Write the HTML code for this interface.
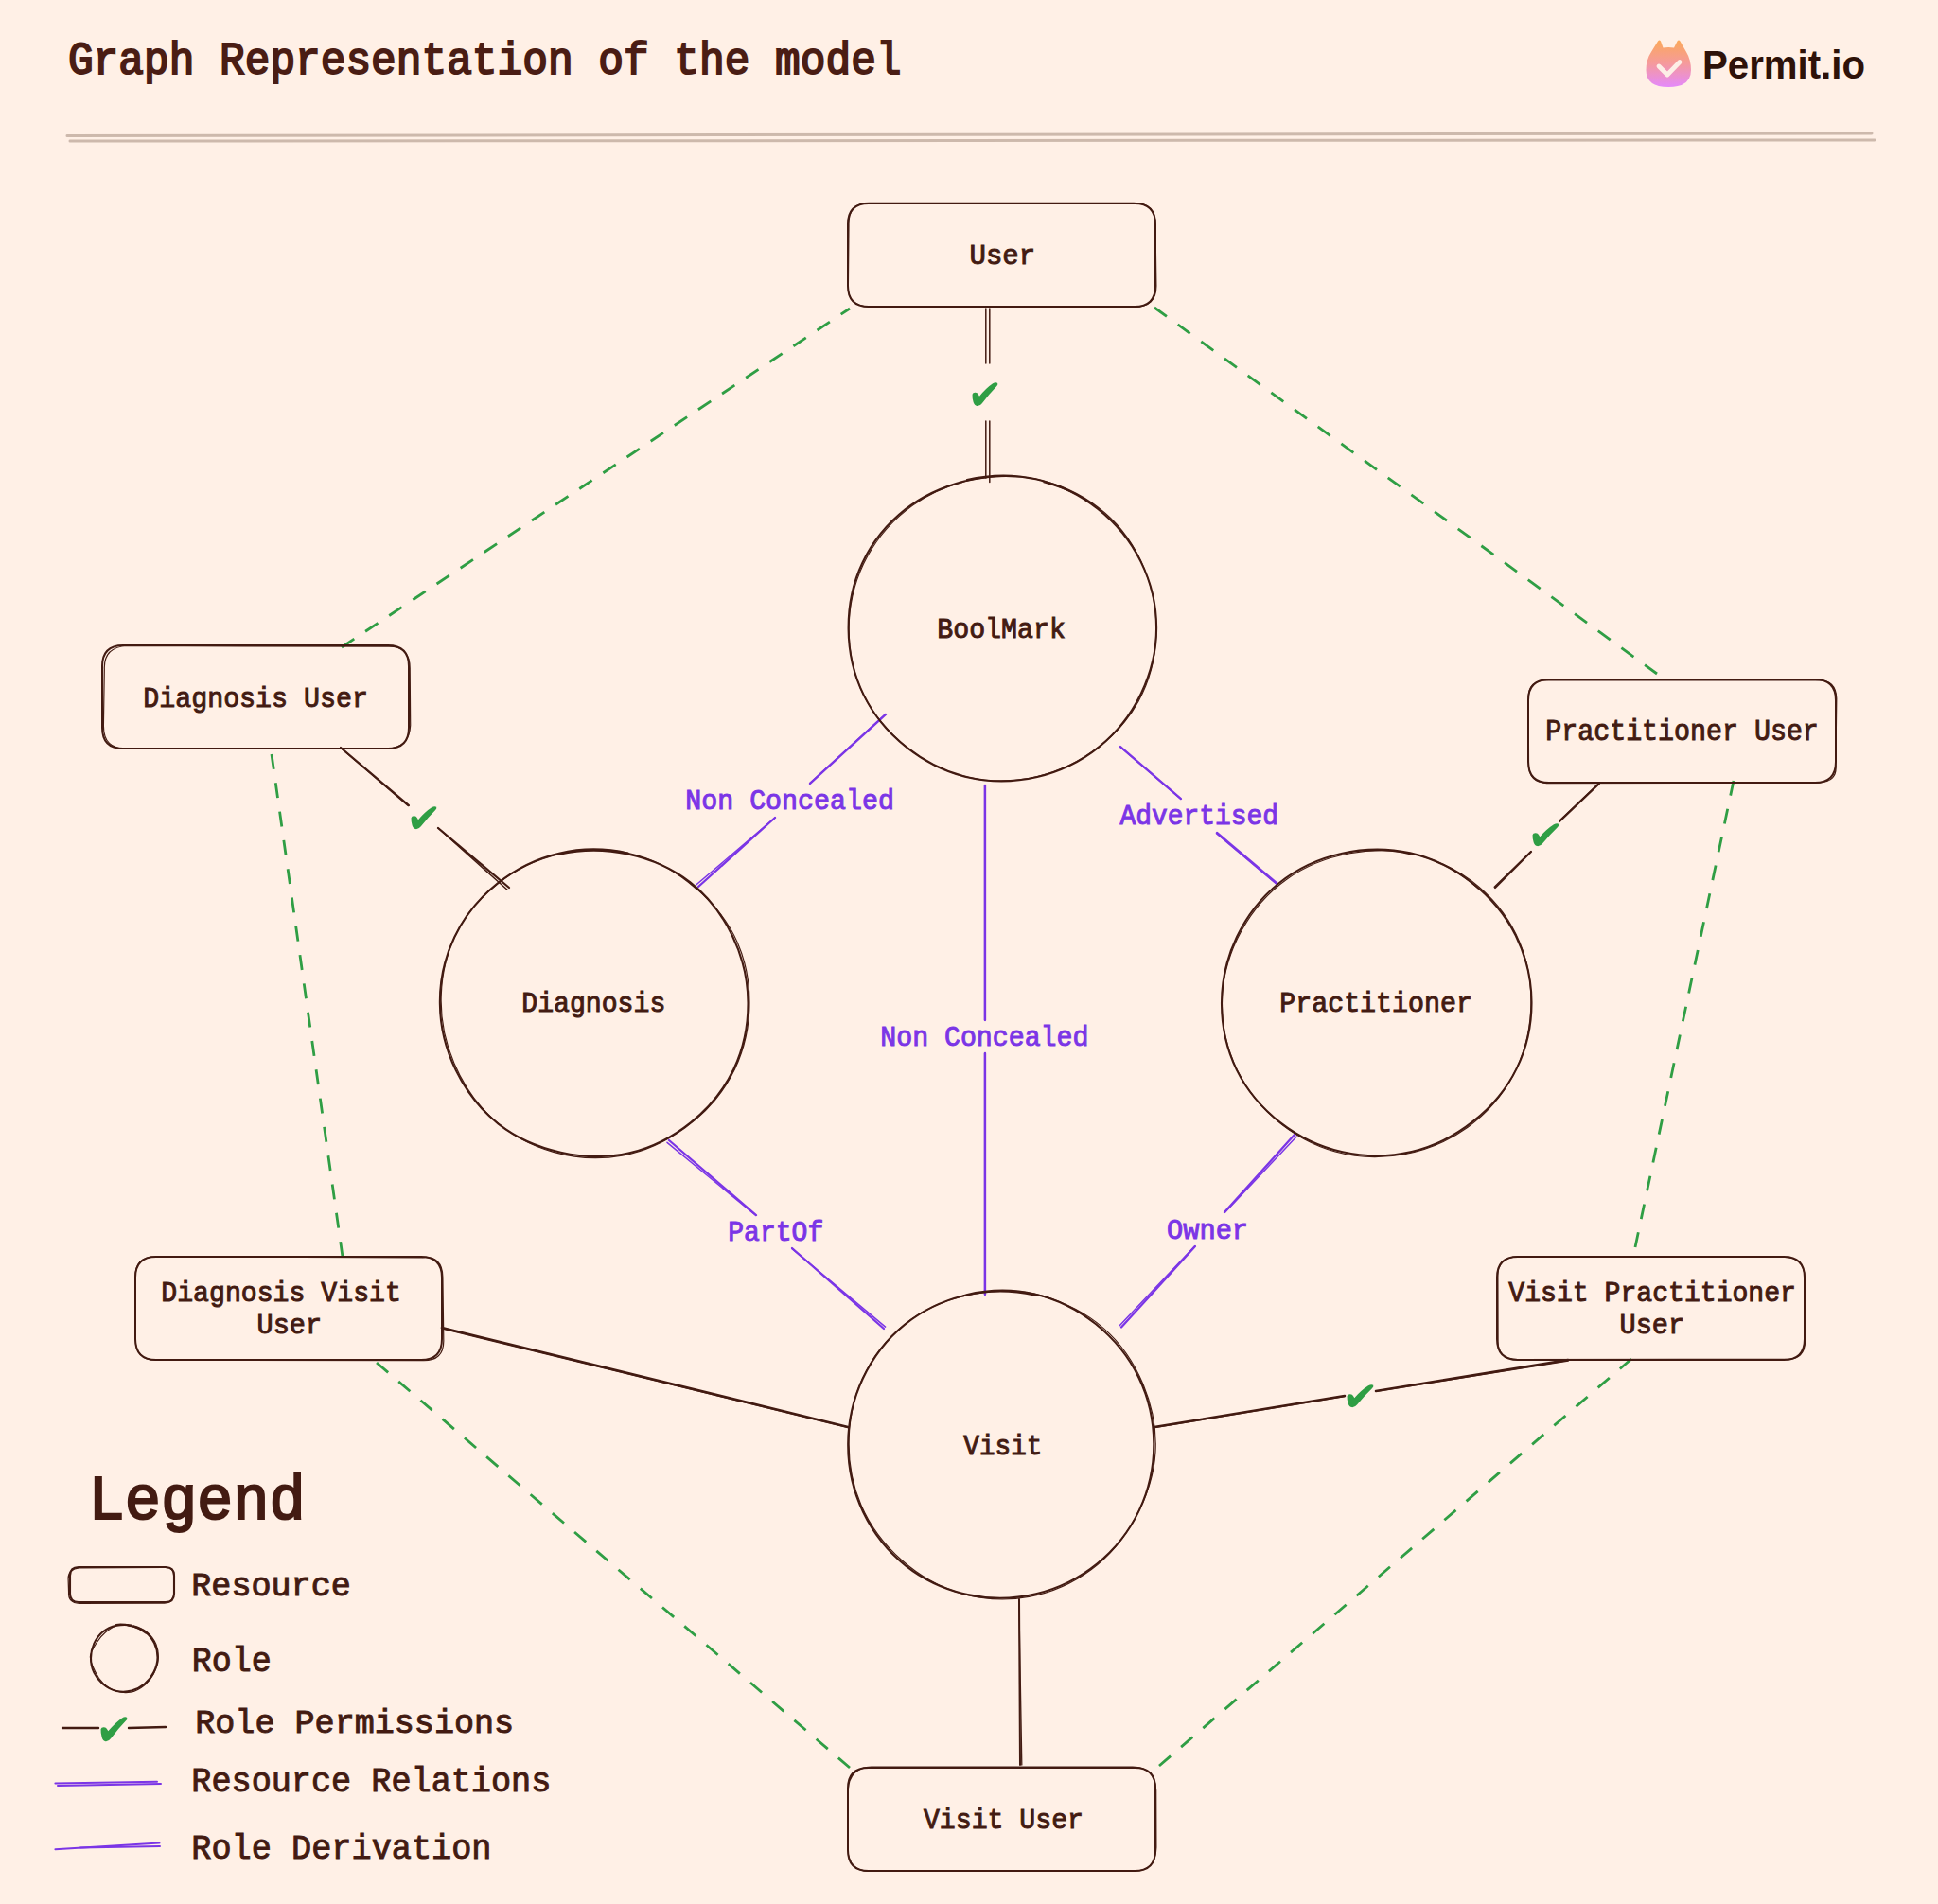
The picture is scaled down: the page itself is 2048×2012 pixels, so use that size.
<!DOCTYPE html><html><head><meta charset="utf-8"><style>html,body{margin:0;padding:0;background:#fff0e6;overflow:hidden} svg{display:block} .m{font-family:"Liberation Mono",monospace} .s{font-family:"Liberation Sans",sans-serif;font-weight:bold}</style></head><body>
<svg width="2048" height="2012" viewBox="0 0 2048 2012">
<rect width="2048" height="2012" fill="#fff0e6"/>
<g class="m">
<text transform="translate(71.90,78.25) scale(0.9365,1)" font-size="47.50" fill="#4a1d14" stroke="#4a1d14" stroke-width="2.0">Graph Representation of the model</text>
<line x1="71.0" y1="143.5" x2="1978.0" y2="141.0" stroke="#cdb9ac" stroke-width="3" stroke-linecap="round"/>
<line x1="74.0" y1="149.0" x2="1981.0" y2="148.0" stroke="#cdb9ac" stroke-width="3" stroke-linecap="round"/>
<line x1="361" y1="684" x2="898" y2="326" stroke="#2f9e44" stroke-width="2.8" stroke-dasharray="16 14.20"/>
<line x1="1220" y1="325" x2="1751" y2="712" stroke="#2f9e44" stroke-width="2.8" stroke-dasharray="16 14.53"/>
<line x1="287" y1="797" x2="362" y2="1328" stroke="#2f9e44" stroke-width="2.8" stroke-dasharray="16 14.60"/>
<line x1="1832" y1="825" x2="1728" y2="1318" stroke="#2f9e44" stroke-width="2.8" stroke-dasharray="16 14.49"/>
<line x1="398" y1="1440" x2="898" y2="1868" stroke="#2f9e44" stroke-width="2.8" stroke-dasharray="16 14.58"/>
<line x1="1724" y1="1436" x2="1225" y2="1866" stroke="#2f9e44" stroke-width="2.8" stroke-dasharray="16 14.61"/>
<line x1="1041.8" y1="326.0" x2="1041.8" y2="384.0" stroke="#431b12" stroke-width="1.5" stroke-linecap="round"/>
<line x1="1045.8" y1="326.0" x2="1045.8" y2="384.0" stroke="#431b12" stroke-width="1.5" stroke-linecap="round"/>
<path transform="translate(1027,404) scale(0.1080,0.1111)" fill="#2f9e44" d="M5,115 Q10,95 35,97 Q55,98 62,112 L74,133 Q140,55 205,12 Q235,-5 252,8 Q258,25 240,40 Q170,110 100,200 Q80,228 50,226 Q25,222 15,190 Q3,150 5,115 Z"/>
<line x1="1041.8" y1="445.0" x2="1041.8" y2="505.0" stroke="#431b12" stroke-width="1.5" stroke-linecap="round"/>
<line x1="1045.8" y1="445.0" x2="1045.8" y2="509.5" stroke="#431b12" stroke-width="1.5" stroke-linecap="round"/>
<line x1="360.0" y1="790.0" x2="432.0" y2="851.0" stroke="#431b12" stroke-width="2.2" stroke-linecap="round"/>
<line x1="359.8" y1="790.2" x2="431.5" y2="851.6" stroke="#431b12" stroke-width="1.4300000000000002" stroke-linecap="round"/>
<path transform="translate(434,852) scale(0.1080,0.1067)" fill="#2f9e44" d="M5,115 Q10,95 35,97 Q55,98 62,112 L74,133 Q140,55 205,12 Q235,-5 252,8 Q258,25 240,40 Q170,110 100,200 Q80,228 50,226 Q25,222 15,190 Q3,150 5,115 Z"/>
<line x1="463.0" y1="875.0" x2="538.0" y2="938.0" stroke="#431b12" stroke-width="2.2" stroke-linecap="round"/>
<line x1="463.0" y1="875.0" x2="536.1" y2="940.3" stroke="#431b12" stroke-width="1.4300000000000002" stroke-linecap="round"/>
<line x1="1690.0" y1="828.0" x2="1648.0" y2="868.0" stroke="#431b12" stroke-width="2.2" stroke-linecap="round"/>
<line x1="1689.7" y1="827.6" x2="1647.7" y2="867.6" stroke="#431b12" stroke-width="1.4300000000000002" stroke-linecap="round"/>
<path transform="translate(1619,870) scale(0.1120,0.1067)" fill="#2f9e44" d="M5,115 Q10,95 35,97 Q55,98 62,112 L74,133 Q140,55 205,12 Q235,-5 252,8 Q258,25 240,40 Q170,110 100,200 Q80,228 50,226 Q25,222 15,190 Q3,150 5,115 Z"/>
<line x1="1618.0" y1="900.0" x2="1580.0" y2="938.0" stroke="#431b12" stroke-width="2.2" stroke-linecap="round"/>
<line x1="1617.8" y1="899.8" x2="1579.2" y2="937.2" stroke="#431b12" stroke-width="1.4300000000000002" stroke-linecap="round"/>
<line x1="467.0" y1="1403.0" x2="896.0" y2="1508.0" stroke="#431b12" stroke-width="2.6" stroke-linecap="round"/>
<line x1="466.8" y1="1403.8" x2="895.9" y2="1508.3" stroke="#431b12" stroke-width="1.6900000000000002" stroke-linecap="round"/>
<line x1="1220.0" y1="1508.0" x2="1421.0" y2="1475.0" stroke="#431b12" stroke-width="2.5" stroke-linecap="round"/>
<line x1="1220.1" y1="1508.5" x2="1421.1" y2="1475.4" stroke="#431b12" stroke-width="1.625" stroke-linecap="round"/>
<path transform="translate(1423,1463) scale(0.1120,0.1067)" fill="#2f9e44" d="M5,115 Q10,95 35,97 Q55,98 62,112 L74,133 Q140,55 205,12 Q235,-5 252,8 Q258,25 240,40 Q170,110 100,200 Q80,228 50,226 Q25,222 15,190 Q3,150 5,115 Z"/>
<line x1="1454.0" y1="1470.0" x2="1657.0" y2="1437.0" stroke="#431b12" stroke-width="2.5" stroke-linecap="round"/>
<line x1="1454.0" y1="1470.3" x2="1657.2" y2="1438.0" stroke="#431b12" stroke-width="1.625" stroke-linecap="round"/>
<line x1="1077.0" y1="1690.0" x2="1078.0" y2="1865.0" stroke="#431b12" stroke-width="2.0" stroke-linecap="round"/>
<line x1="1076.8" y1="1690.0" x2="1079.8" y2="1865.0" stroke="#431b12" stroke-width="1.3" stroke-linecap="round"/>
<line x1="936.0" y1="755.0" x2="856.0" y2="828.0" stroke="#7b35e6" stroke-width="2.3" stroke-linecap="round"/>
<line x1="935.7" y1="754.6" x2="855.7" y2="827.6" stroke="#7b35e6" stroke-width="1.4949999999999999" stroke-linecap="round"/>
<line x1="819.0" y1="864.0" x2="738.0" y2="937.0" stroke="#7b35e6" stroke-width="2.3" stroke-linecap="round"/>
<line x1="819.0" y1="864.0" x2="736.0" y2="934.8" stroke="#7b35e6" stroke-width="1.4949999999999999" stroke-linecap="round"/>
<line x1="1041.0" y1="830.0" x2="1041.0" y2="1078.0" stroke="#7b35e6" stroke-width="2.3" stroke-linecap="round"/>
<line x1="1040.5" y1="830.0" x2="1040.5" y2="1078.0" stroke="#7b35e6" stroke-width="1.4949999999999999" stroke-linecap="round"/>
<line x1="1041.0" y1="1113.0" x2="1041.0" y2="1368.0" stroke="#7b35e6" stroke-width="2.3" stroke-linecap="round"/>
<line x1="1040.5" y1="1113.0" x2="1040.5" y2="1368.0" stroke="#7b35e6" stroke-width="1.4949999999999999" stroke-linecap="round"/>
<line x1="1184.0" y1="789.0" x2="1248.0" y2="844.0" stroke="#7b35e6" stroke-width="2.3" stroke-linecap="round"/>
<line x1="1183.7" y1="789.4" x2="1247.7" y2="844.4" stroke="#7b35e6" stroke-width="1.4949999999999999" stroke-linecap="round"/>
<line x1="1286.0" y1="880.0" x2="1350.0" y2="934.0" stroke="#7b35e6" stroke-width="2.3" stroke-linecap="round"/>
<line x1="1285.4" y1="880.8" x2="1349.5" y2="934.6" stroke="#7b35e6" stroke-width="1.4949999999999999" stroke-linecap="round"/>
<line x1="707.0" y1="1205.0" x2="799.0" y2="1284.0" stroke="#7b35e6" stroke-width="2.3" stroke-linecap="round"/>
<line x1="705.0" y1="1207.3" x2="798.7" y2="1284.4" stroke="#7b35e6" stroke-width="1.4949999999999999" stroke-linecap="round"/>
<line x1="837.0" y1="1319.0" x2="934.0" y2="1404.0" stroke="#7b35e6" stroke-width="2.3" stroke-linecap="round"/>
<line x1="836.7" y1="1319.4" x2="935.6" y2="1402.1" stroke="#7b35e6" stroke-width="1.4949999999999999" stroke-linecap="round"/>
<line x1="1368.0" y1="1199.0" x2="1294.0" y2="1281.0" stroke="#7b35e6" stroke-width="2.3" stroke-linecap="round"/>
<line x1="1370.2" y1="1201.0" x2="1294.4" y2="1281.3" stroke="#7b35e6" stroke-width="1.4949999999999999" stroke-linecap="round"/>
<line x1="1263.0" y1="1317.0" x2="1185.0" y2="1402.5" stroke="#7b35e6" stroke-width="2.3" stroke-linecap="round"/>
<line x1="1262.6" y1="1316.7" x2="1183.2" y2="1400.8" stroke="#7b35e6" stroke-width="1.4949999999999999" stroke-linecap="round"/>
<text transform="translate(724.26,854.80) scale(0.9661,1)" font-size="29.29" fill="#7b35e6" stroke="#7b35e6" stroke-width="1.0">Non Concealed</text>
<text transform="translate(930.27,1105.30) scale(0.9395,1)" font-size="30.05" fill="#7b35e6" stroke="#7b35e6" stroke-width="1.0">Non Concealed</text>
<text transform="translate(1183.50,871.00) scale(0.9578,1)" font-size="29.14" fill="#7b35e6" stroke="#7b35e6" stroke-width="1.0">Advertised</text>
<text transform="translate(769.28,1311.20) scale(0.9628,1)" font-size="29.14" fill="#7b35e6" stroke="#7b35e6" stroke-width="1.0">PartOf</text>
<text transform="translate(1233.07,1309.30) scale(0.9540,1)" font-size="30.05" fill="#7b35e6" stroke="#7b35e6" stroke-width="1.0">Owner</text>
<path d="M918.0,215.0 L1199.0,215.0 Q1221.0,215.0 1221.0,237.0 L1221.0,302.0 Q1221.0,324.0 1199.0,324.0 L918.0,324.0 Q896.0,324.0 896.0,302.0 L896.0,237.0 Q896.0,215.0 918.0,215.0 Z" fill="none" stroke="#431b12" stroke-width="2.0"/>
<path d="M919.3,214.3 L1198.1,214.4 Q1221.0,214.5 1221.0,237.3 L1221.9,301.6 Q1222.3,324.7 1198.1,324.5 L919.3,324.1 Q895.0,323.3 896.4,301.6 L897.0,237.3 Q896.5,213.8 919.3,214.3" fill="none" stroke="#431b12" stroke-width="1.20"/>
<text transform="translate(1024.49,278.50) scale(1.0059,1)" font-size="28.83" fill="#431b12" stroke="#431b12" stroke-width="1.0">User</text>
<path d="M130.0,682.0 L410.0,682.0 Q432.0,682.0 432.0,704.0 L432.0,769.0 Q432.0,791.0 410.0,791.0 L130.0,791.0 Q108.0,791.0 108.0,769.0 L108.0,704.0 Q108.0,682.0 130.0,682.0 Z" fill="none" stroke="#431b12" stroke-width="2.0"/>
<path d="M134.1,682.5 L408.5,683.2 Q433.6,681.7 433.2,707.2 L433.7,766.5 Q432.7,790.4 408.5,791.2 L134.1,791.0 Q109.2,792.0 109.4,766.5 L110.3,707.2 Q109.4,683.7 134.1,682.5" fill="none" stroke="#431b12" stroke-width="1.20"/>
<text transform="translate(151.26,746.50) scale(0.9326,1)" font-size="30.35" fill="#431b12" stroke="#431b12" stroke-width="1.0">Diagnosis User</text>
<path d="M1637.0,718.0 L1918.0,718.0 Q1940.0,718.0 1940.0,740.0 L1940.0,805.0 Q1940.0,827.0 1918.0,827.0 L1637.0,827.0 Q1615.0,827.0 1615.0,805.0 L1615.0,740.0 Q1615.0,718.0 1637.0,718.0 Z" fill="none" stroke="#431b12" stroke-width="2.0"/>
<path d="M1634.5,718.9 L1921.8,718.9 Q1940.1,718.7 1940.8,737.9 L1939.9,808.1 Q1942.2,826.3 1921.8,827.1 L1634.5,827.6 Q1615.7,826.7 1615.5,808.1 L1615.2,737.9 Q1614.6,719.2 1634.5,718.9" fill="none" stroke="#431b12" stroke-width="1.20"/>
<text transform="translate(1633.26,782.00) scale(0.9189,1)" font-size="30.80" fill="#431b12" stroke="#431b12" stroke-width="1.0">Practitioner User</text>
<path d="M165.0,1328.0 L445.0,1328.0 Q467.0,1328.0 467.0,1350.0 L467.0,1415.0 Q467.0,1437.0 445.0,1437.0 L165.0,1437.0 Q143.0,1437.0 143.0,1415.0 L143.0,1350.0 Q143.0,1328.0 165.0,1328.0 Z" fill="none" stroke="#431b12" stroke-width="2.0"/>
<path d="M164.7,1328.0 L446.5,1328.8 Q467.5,1326.8 467.9,1349.4 L468.8,1416.3 Q469.1,1438.5 446.5,1437.7 L164.7,1437.2 Q143.9,1437.4 143.2,1416.3 L142.9,1349.4 Q142.8,1327.7 164.7,1328.0" fill="none" stroke="#431b12" stroke-width="1.20"/>
<text transform="translate(170.27,1374.90) scale(0.9773,1)" font-size="28.83" fill="#431b12" stroke="#431b12" stroke-width="1.0">Diagnosis Visit</text>
<text transform="translate(271.52,1409.30) scale(0.9904,1)" font-size="28.83" fill="#431b12" stroke="#431b12" stroke-width="1.0">User</text>
<path d="M1604.0,1328.0 L1885.0,1328.0 Q1907.0,1328.0 1907.0,1350.0 L1907.0,1415.0 Q1907.0,1437.0 1885.0,1437.0 L1604.0,1437.0 Q1582.0,1437.0 1582.0,1415.0 L1582.0,1350.0 Q1582.0,1328.0 1604.0,1328.0 Z" fill="none" stroke="#431b12" stroke-width="2.0"/>
<path d="M1603.7,1327.9 L1886.5,1328.5 Q1905.9,1329.3 1907.1,1348.5 L1907.6,1415.7 Q1908.0,1437.5 1886.5,1436.3 L1603.7,1436.7 Q1582.1,1436.3 1583.1,1415.7 L1582.9,1348.5 Q1582.4,1328.9 1603.7,1327.9" fill="none" stroke="#431b12" stroke-width="1.20"/>
<text transform="translate(1594.36,1375.00) scale(0.9751,1)" font-size="28.83" fill="#431b12" stroke="#431b12" stroke-width="1.0">Visit Practitioner</text>
<text transform="translate(1711.52,1409.30) scale(0.9904,1)" font-size="28.83" fill="#431b12" stroke="#431b12" stroke-width="1.0">User</text>
<path d="M918.0,1868.0 L1199.0,1868.0 Q1221.0,1868.0 1221.0,1890.0 L1221.0,1955.0 Q1221.0,1977.0 1199.0,1977.0 L918.0,1977.0 Q896.0,1977.0 896.0,1955.0 L896.0,1890.0 Q896.0,1868.0 918.0,1868.0 Z" fill="none" stroke="#431b12" stroke-width="2.0"/>
<path d="M920.8,1867.2 L1196.9,1867.0 Q1220.9,1867.4 1221.7,1892.0 L1221.9,1952.2 Q1221.2,1978.1 1196.9,1977.0 L920.8,1977.4 Q895.7,1978.2 896.0,1952.2 L896.2,1892.0 Q897.4,1867.8 920.8,1867.2" fill="none" stroke="#431b12" stroke-width="1.20"/>
<text transform="translate(975.96,1931.70) scale(0.9473,1)" font-size="29.74" fill="#431b12" stroke="#431b12" stroke-width="1.0">Visit User</text>
<path d="M1021.9,507.1 C1044.9,501.7 1071.6,501.2 1094.6,506.3 C1117.6,511.4 1141.5,523.2 1160.0,537.7 C1178.5,552.2 1195.2,572.5 1205.5,593.4 C1215.9,614.4 1222.1,640.0 1222.1,663.2 C1222.2,686.5 1215.9,711.9 1205.8,733.0 C1195.7,754.0 1179.5,774.7 1161.3,789.4 C1143.0,804.1 1119.0,815.6 1096.1,821.0 C1073.1,826.3 1046.4,826.7 1023.4,821.5 C1000.4,816.4 976.8,804.4 958.3,789.9 C939.9,775.4 923.0,755.3 912.7,734.4 C902.4,713.6 896.8,688.1 896.6,664.8 C896.4,641.5 901.4,615.7 911.4,594.7 C921.4,573.6 938.1,552.9 956.6,538.4 C975.0,523.9 999.1,513.2 1022.1,507.8 C1045.1,502.5 1071.6,501.3 1094.7,506.2" fill="none" stroke="#431b12" stroke-width="2.1" stroke-linecap="round"/>
<path d="M1102.9,509.6 C1125.7,515.8 1149.9,526.7 1167.6,542.0 C1185.4,557.2 1200.3,579.5 1209.3,601.1 C1218.3,622.7 1222.9,648.4 1221.8,671.8 C1220.8,695.1 1214.3,720.7 1203.0,741.2 C1191.8,761.6 1173.6,780.7 1154.5,794.3 C1135.4,807.8 1111.3,818.1 1088.3,822.3 C1065.2,826.5 1038.7,825.8 1016.1,819.6 C993.6,813.4 970.6,800.4 952.9,785.1 C935.1,769.8 918.7,749.1 909.5,727.7 C900.2,706.3 896.1,680.1 897.3,656.8 C898.5,633.5 905.5,608.2 916.7,587.8 C927.9,567.3 945.5,547.7 964.5,534.1 C983.6,520.5 1007.8,510.5 1030.9,506.2 C1054.1,501.9 1080.5,502.2 1103.3,508.2 C1126.1,514.2 1150.0,526.6 1167.6,542.1" fill="none" stroke="#431b12" stroke-width="1.16" stroke-linecap="round"/>
<text transform="translate(990.26,674.20) scale(0.9454,1)" font-size="29.89" fill="#431b12" stroke="#431b12" stroke-width="1.0">BoolMark</text>
<path d="M591.1,902.7 C614.1,897.6 640.3,897.6 663.4,902.5 C686.4,907.5 711.0,917.9 729.4,932.3 C747.9,946.8 763.9,968.1 774.1,989.2 C784.3,1010.4 790.3,1035.8 790.5,1059.2 C790.7,1082.6 785.4,1108.5 775.4,1129.7 C765.3,1150.8 748.5,1171.2 730.1,1186.0 C711.7,1200.8 688.1,1213.0 665.2,1218.3 C642.2,1223.6 615.7,1222.9 592.6,1217.7 C569.5,1212.6 545.1,1202.1 526.6,1187.6 C508.1,1173.2 492.0,1152.0 481.7,1130.9 C471.4,1109.7 465.1,1084.2 464.9,1060.8 C464.6,1037.3 470.1,1011.3 480.3,990.2 C490.4,969.0 507.2,948.4 525.6,933.6 C544.0,918.9 567.8,907.0 590.8,901.7 C613.8,896.3 640.6,896.3 663.6,901.6" fill="none" stroke="#431b12" stroke-width="2.1" stroke-linecap="round"/>
<path d="M672.2,903.6 C694.8,909.9 717.6,923.1 735.5,938.6 C753.3,954.0 770.0,974.7 779.4,996.2 C788.8,1017.8 792.9,1044.3 791.8,1067.9 C790.6,1091.5 783.7,1117.2 772.4,1137.8 C761.1,1158.5 743.1,1177.9 724.0,1191.7 C704.8,1205.6 680.8,1216.8 657.6,1221.1 C634.4,1225.3 607.6,1223.8 584.9,1217.4 C562.2,1211.0 538.7,1198.3 521.2,1182.6 C503.7,1167.0 489.1,1145.1 479.9,1123.5 C470.7,1101.8 465.5,1076.3 466.2,1052.8 C466.9,1029.3 473.1,1003.2 484.3,982.5 C495.4,961.8 513.8,942.3 533.1,928.6 C552.3,915.0 576.7,905.0 599.9,900.8 C623.0,896.6 649.7,897.1 672.2,903.5 C694.8,909.8 717.6,923.3 735.2,938.9" fill="none" stroke="#431b12" stroke-width="1.16" stroke-linecap="round"/>
<text transform="translate(551.27,1069.10) scale(0.9765,1)" font-size="28.83" fill="#431b12" stroke="#431b12" stroke-width="1.0">Diagnosis</text>
<path d="M1417.3,902.0 C1440.4,896.7 1467.2,896.3 1490.2,901.4 C1513.3,906.6 1537.1,918.5 1555.6,933.0 C1574.2,947.5 1591.2,967.7 1601.7,988.6 C1612.1,1009.6 1618.4,1035.3 1618.5,1058.7 C1618.7,1082.1 1613.0,1108.1 1602.7,1129.1 C1592.4,1150.2 1575.3,1170.3 1556.8,1184.9 C1538.3,1199.6 1514.7,1211.6 1491.7,1217.0 C1468.7,1222.4 1441.9,1222.4 1418.8,1217.3 C1395.8,1212.2 1371.8,1200.7 1353.2,1186.3 C1334.5,1171.8 1317.3,1151.6 1306.9,1130.6 C1296.6,1109.6 1291.0,1083.7 1291.0,1060.3 C1291.0,1036.9 1296.8,1011.3 1306.9,990.2 C1317.0,969.0 1333.2,947.9 1351.6,933.2 C1370.0,918.5 1394.2,907.2 1417.3,902.0 C1440.4,896.9 1467.0,897.0 1490.1,902.1" fill="none" stroke="#431b12" stroke-width="2.1" stroke-linecap="round"/>
<path d="M1498.7,903.8 C1521.6,910.0 1545.3,922.1 1563.2,937.5 C1581.0,952.8 1597.0,974.4 1606.1,996.1 C1615.1,1017.7 1618.9,1043.8 1617.7,1067.3 C1616.5,1090.7 1609.9,1116.1 1598.8,1136.8 C1587.7,1157.4 1570.1,1177.4 1551.0,1191.2 C1531.9,1205.0 1507.4,1215.4 1484.1,1219.7 C1460.8,1224.0 1433.9,1223.3 1411.1,1217.0 C1388.3,1210.7 1364.9,1197.6 1347.1,1182.1 C1329.2,1166.5 1313.2,1145.2 1304.0,1123.6 C1294.7,1102.0 1290.3,1075.7 1291.6,1052.3 C1293.0,1028.9 1300.7,1003.7 1312.1,983.2 C1323.4,962.7 1340.7,942.7 1359.7,929.2 C1378.8,915.6 1403.3,906.0 1426.4,901.8 C1449.6,897.6 1476.2,897.6 1498.8,903.8 C1521.4,909.9 1544.4,923.3 1562.0,938.8" fill="none" stroke="#431b12" stroke-width="1.16" stroke-linecap="round"/>
<text transform="translate(1352.26,1069.10) scale(0.9815,1)" font-size="28.83" fill="#431b12" stroke="#431b12" stroke-width="1.0">Practitioner</text>
<path d="M1021.2,1368.2 C1044.0,1362.8 1070.6,1362.2 1093.4,1367.4 C1116.2,1372.6 1139.8,1384.6 1158.1,1399.3 C1176.4,1414.0 1193.1,1434.4 1203.3,1455.5 C1213.5,1476.5 1219.2,1502.3 1219.3,1525.7 C1219.4,1549.2 1213.8,1574.9 1203.8,1596.1 C1193.8,1617.2 1177.4,1637.8 1159.2,1652.5 C1141.0,1667.2 1117.4,1678.9 1094.7,1684.3 C1072.0,1689.7 1045.6,1690.1 1022.7,1685.1 C999.8,1680.2 975.6,1669.1 957.2,1654.6 C938.8,1640.0 922.3,1619.0 912.1,1597.8 C902.0,1576.6 896.2,1550.8 896.2,1527.3 C896.1,1503.8 901.8,1478.0 911.8,1456.8 C921.8,1435.5 938.0,1414.4 956.2,1399.7 C974.5,1385.0 998.4,1373.7 1021.2,1368.5 C1044.1,1363.3 1070.3,1363.5 1093.2,1368.5" fill="none" stroke="#431b12" stroke-width="2.1" stroke-linecap="round"/>
<path d="M1101.8,1370.0 C1124.5,1376.1 1148.3,1387.9 1166.0,1403.4 C1183.7,1418.8 1198.8,1440.9 1208.0,1462.8 C1217.1,1484.6 1222.3,1510.9 1221.0,1534.4 C1219.6,1557.9 1211.1,1583.0 1199.9,1603.7 C1188.6,1624.4 1172.1,1644.6 1153.3,1658.5 C1134.5,1672.5 1110.3,1683.2 1087.3,1687.4 C1064.3,1691.6 1037.8,1690.1 1015.4,1683.7 C992.9,1677.2 970.3,1664.1 952.7,1648.5 C935.1,1633.0 919.3,1612.1 910.0,1590.5 C900.8,1569.0 896.3,1542.9 897.2,1519.2 C898.0,1495.6 904.3,1469.7 915.3,1448.8 C926.3,1427.9 944.0,1407.6 963.1,1394.0 C982.2,1380.4 1006.9,1371.3 1030.1,1367.1 C1053.2,1363.0 1079.6,1362.9 1102.0,1369.2 C1124.5,1375.5 1147.2,1389.1 1164.7,1404.8" fill="none" stroke="#431b12" stroke-width="1.16" stroke-linecap="round"/>
<text transform="translate(1018.36,1536.50) scale(0.9348,1)" font-size="29.59" fill="#431b12" stroke="#431b12" stroke-width="1.0">Visit</text>
<text transform="translate(93.43,1605.20) scale(0.9563,1)" font-size="66.62" fill="#431b12" stroke="#431b12" stroke-width="2.2">Legend</text>
<path d="M83.0,1656.0 L175.0,1656.0 Q184.0,1656.0 184.0,1665.0 L184.0,1684.0 Q184.0,1693.0 175.0,1693.0 L83.0,1693.0 Q74.0,1693.0 74.0,1684.0 L74.0,1665.0 Q74.0,1656.0 83.0,1656.0 Z" fill="none" stroke="#431b12" stroke-width="2.1"/>
<path d="M83.7,1656.8 L172.9,1656.3 Q185.3,1655.5 184.0,1667.9 L184.3,1682.8 Q182.7,1694.6 172.9,1694.0 L83.7,1694.4 Q71.8,1693.6 72.6,1682.8 L72.1,1667.9 Q72.3,1658.1 83.7,1656.8" fill="none" stroke="#431b12" stroke-width="1.26"/>
<text transform="translate(202.32,1685.50) scale(1.0056,1)" font-size="34.90" fill="#431b12" stroke="#431b12" stroke-width="1.0">Resource</text>
<path d="M122.9,1717.1 C127.7,1716.0 133.5,1717.0 138.6,1718.1 C143.6,1719.3 148.9,1721.1 153.0,1724.1 C157.1,1727.2 160.8,1731.7 163.1,1736.4 C165.3,1741.0 166.6,1746.7 166.5,1751.8 C166.5,1756.9 164.8,1762.4 162.5,1767.0 C160.3,1771.6 156.9,1776.0 152.9,1779.3 C149.0,1782.5 144.0,1785.3 139.1,1786.6 C134.1,1787.9 128.2,1788.1 123.2,1787.0 C118.2,1785.9 113.0,1783.1 109.0,1779.8 C105.1,1776.5 101.5,1772.1 99.3,1767.4 C97.1,1762.8 96.0,1757.3 96.0,1752.2 C96.0,1747.1 97.2,1741.6 99.3,1736.9 C101.5,1732.3 104.8,1727.5 108.7,1724.3 C112.7,1721.2 118.0,1718.9 123.0,1717.8 C128.0,1716.7 133.7,1716.5 138.7,1717.6" fill="none" stroke="#431b12" stroke-width="2.1" stroke-linecap="round"/>
<path d="M141.0,1717.9 C146.0,1719.2 151.3,1721.4 155.3,1724.7 C159.3,1728.0 163.0,1732.9 165.0,1737.8 C166.9,1742.7 167.7,1748.8 167.2,1754.0 C166.8,1759.2 164.6,1764.6 162.1,1769.1 C159.6,1773.6 156.2,1778.0 152.1,1781.2 C148.1,1784.4 142.9,1787.3 137.9,1788.2 C132.9,1789.1 127.0,1788.4 122.2,1786.8 C117.4,1785.2 112.7,1782.1 109.0,1778.6 C105.4,1775.1 102.5,1770.6 100.3,1765.9 C98.0,1761.2 95.2,1755.6 95.4,1750.6 C95.7,1745.6 99.2,1740.3 102.0,1736.0 C104.7,1731.6 108.0,1727.7 111.9,1724.5 C115.8,1721.4 120.6,1718.1 125.4,1717.2 C130.2,1716.2 135.9,1717.4 140.7,1718.9 C145.5,1720.3 150.2,1722.9 154.1,1726.1" fill="none" stroke="#431b12" stroke-width="1.16" stroke-linecap="round"/>
<text transform="translate(202.73,1765.50) scale(0.9460,1)" font-size="37.03" fill="#431b12" stroke="#431b12" stroke-width="1.0">Role</text>
<line x1="66.0" y1="1826.0" x2="104.0" y2="1826.0" stroke="#431b12" stroke-width="2.4" stroke-linecap="round"/>
<path transform="translate(106,1814) scale(0.1120,0.1156)" fill="#2f9e44" d="M5,115 Q10,95 35,97 Q55,98 62,112 L74,133 Q140,55 205,12 Q235,-5 252,8 Q258,25 240,40 Q170,110 100,200 Q80,228 50,226 Q25,222 15,190 Q3,150 5,115 Z"/>
<line x1="136.0" y1="1826.0" x2="175.0" y2="1825.0" stroke="#431b12" stroke-width="2.4" stroke-linecap="round"/>
<text transform="translate(206.22,1831.20) scale(0.9765,1)" font-size="35.96" fill="#431b12" stroke="#431b12" stroke-width="1.0">Role Permissions</text>
<line x1="58.4" y1="1884.4" x2="166.0" y2="1882.8" stroke="#7b35e6" stroke-width="2.0" stroke-linecap="round"/>
<line x1="61.0" y1="1887.0" x2="170.0" y2="1885.0" stroke="#7b35e6" stroke-width="2.0" stroke-linecap="round"/>
<text transform="translate(202.32,1892.50) scale(0.9662,1)" font-size="36.42" fill="#431b12" stroke="#431b12" stroke-width="1.0">Resource Relations</text>
<line x1="58.4" y1="1954.2" x2="168.5" y2="1947.5" stroke="#7b35e6" stroke-width="2.0" stroke-linecap="round"/>
<line x1="85.0" y1="1952.5" x2="169.0" y2="1951.0" stroke="#7b35e6" stroke-width="2.0" stroke-linecap="round"/>
<text transform="translate(202.31,1964.10) scale(0.9638,1)" font-size="36.57" fill="#431b12" stroke="#431b12" stroke-width="1.0">Role Derivation</text>
</g>
<defs><linearGradient id="lg" x1="0" y1="0" x2="0" y2="1"><stop offset="0" stop-color="#fba95a"/><stop offset="0.5" stop-color="#f59a9c"/><stop offset="1" stop-color="#e489fb"/></linearGradient></defs>
<path fill="url(#lg)" transform="translate(1720,30)" d="M25.5,24 L32,13.5 Q33.5,11.5 35,13.5 L37.5,20.5 Q43,19.5 49,20.5 L52.5,13.5 Q54,11.5 55.5,13.5 L61.5,24 Q67,33 67,44 Q67,62 43.3,62 Q19.5,62 19.5,44 Q19.5,33 25.5,24 Z"/>
<path fill="none" stroke="#fdeee6" stroke-width="4.8" stroke-linecap="round" stroke-linejoin="round" d="M1753,70 L1762,79 L1775,65.5"/>
<text class="s" x="1799" y="82.6" font-size="42" fill="#2e1209" textLength="172" lengthAdjust="spacingAndGlyphs">Permit.io</text>
</svg></body></html>
